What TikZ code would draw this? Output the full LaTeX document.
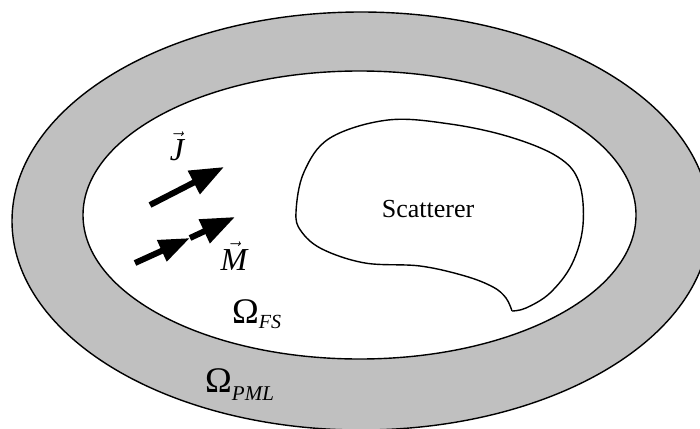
\documentclass[tikz,border=0pt]{standalone}
\usepackage{fontspec}
\setmainfont{Liberation Serif}
\usetikzlibrary{arrows.meta}
\definecolor{pmlgray}{RGB}{192,192,192}
\begin{document}
\begin{tikzpicture}[x=1pt,y=-1pt,
  outline/.style={draw=black,line width=1.4pt},
  bigarrow/.style={line width=6pt,line cap=butt,-{Triangle[length=34pt,width=25pt]}},
  smallhead/.style={line width=6pt,line cap=butt,-{Triangle[length=31pt,width=22pt]}},
  lbl/.style={inner sep=0pt,font=\fontsize{32}{34}\selectfont},
  omega/.style={inner sep=0pt,anchor=base west,font=\fontsize{36}{38}\selectfont}]
\useasboundingbox (0,0) rectangle (700,428);
\clip (0,0) rectangle (700,428);
\fill[white] (0,0) rectangle (700,428);
% PML region and free space
\draw[outline,fill=pmlgray] (361,221) ellipse [x radius=349, y radius=209];
\draw[outline,fill=white] (359.5,215) ellipse [x radius=276.5, y radius=144];
% scatterer
\draw[outline] plot[smooth,tension=0.6] coordinates {(512,311) (506,298) (493,287) (465,276) (420,266) (365,263) (322,249) (301,231) (296,212) (304,172) (330,138) (388,120) (450,124) (510,137) (558,157) (579,182) (583,225) (572,264) (550,293) (526,308) (512,311)};
\node[inner sep=0pt,anchor=base,font=\fontsize{26}{28}\selectfont] (scat) at (428,217) {Scatterer};
% sources
\coordinate (jtail) at (150,205);
\coordinate (jtip) at (224,167);
\draw[bigarrow] (jtail) -- (jtip);
\coordinate (mtail) at (135,263);
\coordinate (mmid) at (190,238);
\coordinate (mtip) at (235,217);
\draw[smallhead] (mtail) -- (mmid);
\draw[bigarrow] (mmid) -- (mtip);
\node[lbl,anchor=base] (jlab) at (177,160) {$\vec{\textit{J}}$};
\node[lbl,anchor=base] (mlab) at (234,270) {$\vec{\textit{M}}$};
% domains
\node[omega] (fs) at (232,323) {Ω\raisebox{-5pt}{\fontsize{20}{21}\selectfont\itshape FS}};
\node[omega] (pml) at (205,392) {Ω\raisebox{-8pt}{\fontsize{21}{22}\selectfont\itshape PML}};
\end{tikzpicture}
\end{document}
